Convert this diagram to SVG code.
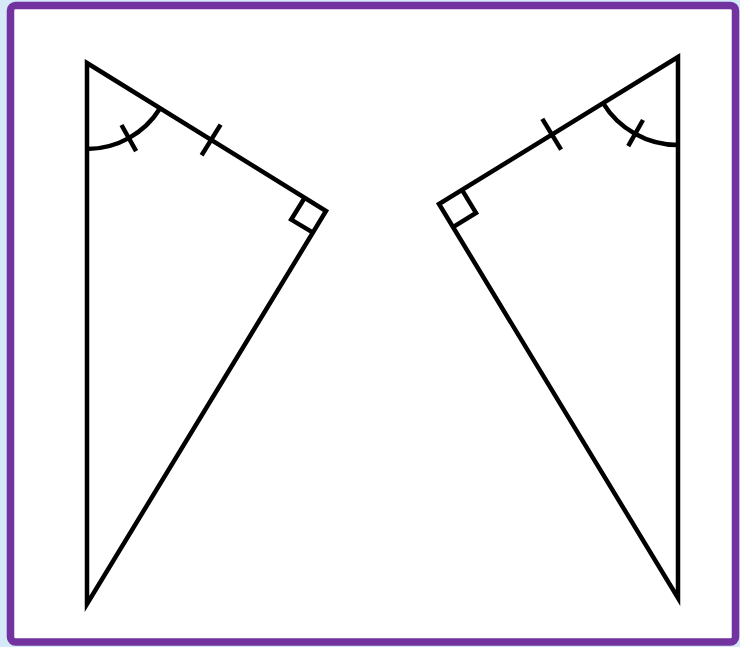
<svg xmlns="http://www.w3.org/2000/svg" width="740" height="647" viewBox="0 0 740 647">
<style>
.ln{fill:none;stroke:#000;stroke-width:4.5;stroke-linejoin:miter;stroke-linecap:butt}
.tk{fill:none;stroke:#000;stroke-width:4.5;stroke-linecap:butt}
</style>
<rect x="0" y="0" width="740" height="647" fill="#D6E9F8"/>
<rect x="10.5" y="5.5" width="725" height="636.5" rx="5" fill="#fff" stroke="#7232A0" stroke-width="7.5"/>
<g id="triangle-left">
<polygon class="ln" points="87,63 326,211 87,604"/>
<path class="ln" d="M87,149 A86,86 0 0 0 160.1,108.3"/>
<line class="tk" x1="121.5" y1="125" x2="136.1" y2="151.2"/>
<line class="tk" x1="220.6" y1="124.6" x2="201.6" y2="155.3"/>
<polyline class="ln" points="304.7,197.8 291.2,219.6 313,232.6"/>
</g>
<g id="triangle-right">
<polygon class="ln" points="678,57 439,204 678,598"/>
<path class="ln" d="M678,145 A88,88 0 0 1 602.9,102.9"/>
<line class="tk" x1="643" y1="120" x2="628.2" y2="146.2"/>
<line class="tk" x1="542.3" y1="118.9" x2="561.1" y2="149.6"/>
<polyline class="ln" points="462,189.9 476,212.9 453,227.1"/>
</g>
</svg>
